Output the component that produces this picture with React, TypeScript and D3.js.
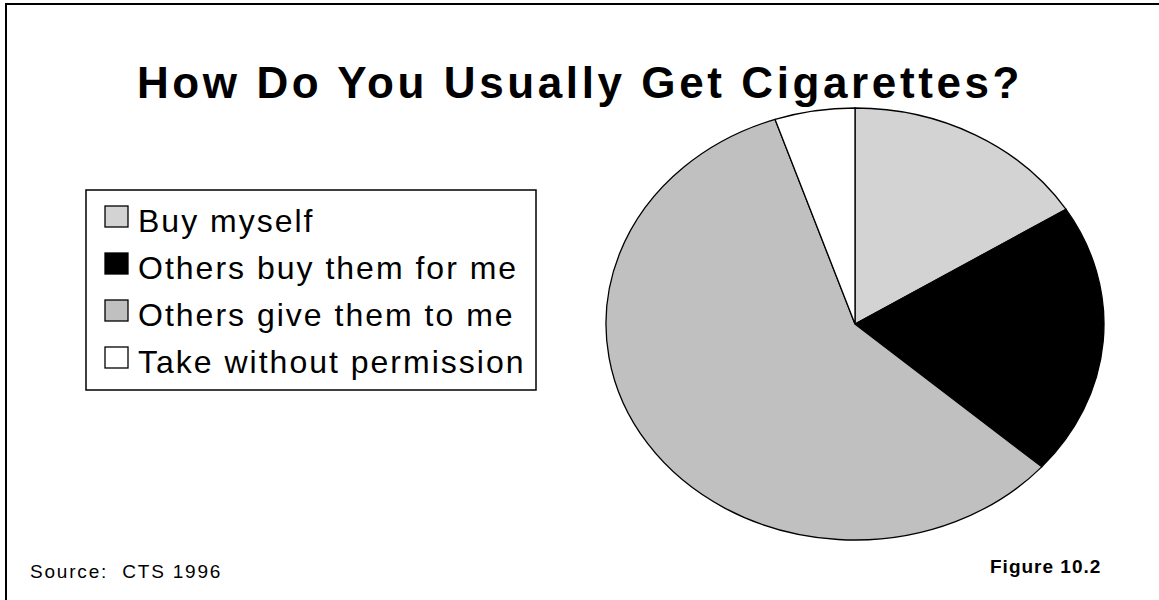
import React from 'react';
import * as d3 from 'd3';

const categories = ['Buy myself', 'Others buy them for me', 'Others give them to me', 'Take without permission'];
const shares = [16.1, 20.4, 58.3, 5.2];
const sliceColors = ['#d3d3d3', '#000000', '#c0c0c0', '#ffffff'];

const titleText = 'How Do You Usually Get Cigarettes?';
const sourceText = 'Source:  CTS 1996';
const figureText = 'Figure 10.2';

const W = 1159;
const H = 600;
const font = 'Arial, "Liberation Sans", Helvetica, sans-serif';

const App: React.FC = () => {
  const cx = 855;
  const cy = 324;
  const rx = 249;
  const ry = 216;
  const r = 100; // unit radius, stretched to an ellipse below

  const pie = d3
    .pie<number>()
    .sort(null)
    .value((d) => d);
  const arcs = pie(shares);
  const arc = d3.arc<d3.PieArcDatum<number>>().innerRadius(0).outerRadius(r);

  const legendX = 86;
  const legendY = 190;
  const rowY = d3.scaleBand<string>().domain(categories).range([0, 188]);

  return (
    <svg width={W} height={H} style={{ display: 'block', position: 'absolute', left: 0, top: 0 }}>
      <rect x={0} y={0} width={W} height={H} fill="#fff" />
      <rect x={6} y={4} width={1300} height={800} fill="none" stroke="#000" strokeWidth={2} />

      <text
        x={580}
        y={98}
        textAnchor="middle"
        fontFamily={font}
        fontWeight="bold"
        fontSize={44}
        letterSpacing={3.6}
        fill="#000"
      >
        {titleText}
      </text>

      <g transform={`translate(${cx},${cy}) scale(${rx / r},${ry / r})`}>
        {arcs.map((a, i) => (
          <path
            key={i}
            d={arc(a) ?? ''}
            fill={sliceColors[i]}
            stroke="#000"
            strokeWidth={1.3}
            vectorEffect="non-scaling-stroke"
          />
        ))}
      </g>

      <g transform={`translate(${legendX},${legendY})`}>
        <rect x={0} y={0} width={450} height={200} fill="#fff" stroke="#000" strokeWidth={1.5} />
        {categories.map((c, i) => {
          const base = (rowY(c) ?? 0) + 42;
          return (
            <g key={c}>
              <rect x={19} y={base - 26} width={23} height={21} fill={sliceColors[i]} stroke="#000" strokeWidth={1.3} />
              <text x={52} y={base} fontFamily={font} fontSize={32} letterSpacing={2} fill="#000">
                {c}
              </text>
            </g>
          );
        })}
      </g>

      <text x={30} y={578} fontFamily={font} fontSize={19} letterSpacing={1.8} fill="#000" style={{ whiteSpace: 'pre' }}>
        {sourceText}
      </text>
      <text x={990} y={573} fontFamily={font} fontWeight="bold" fontSize={19} letterSpacing={1} fill="#000">
        {figureText}
      </text>
    </svg>
  );
};

export default App;
